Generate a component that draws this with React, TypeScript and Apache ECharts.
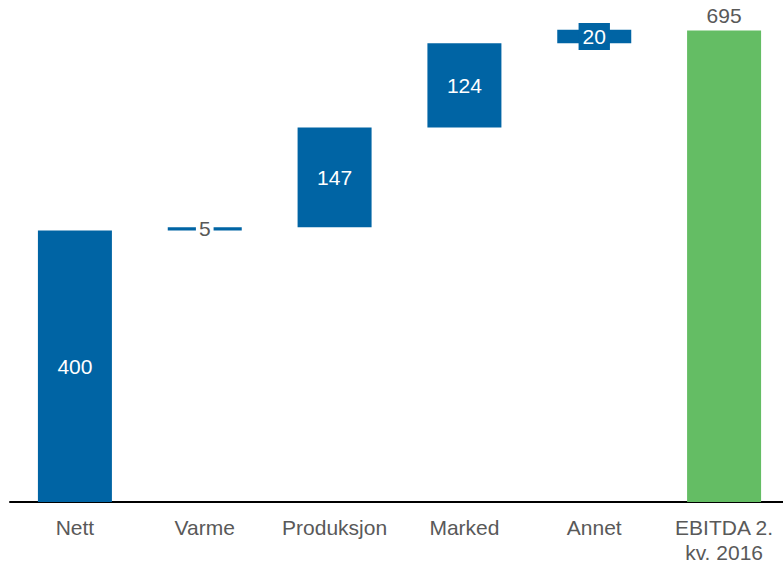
import React, { useEffect, useRef } from "react";
import * as echarts from "echarts";

const categories = ["Nett", "Varme", "Produksjon", "Marked", "Annet", "EBITDA 2.\nkv. 2016"];
const values = [400, 5, 147, 124, 20, 695];
const isTotal = [false, false, false, false, false, true];

const BLUE = "#0064A4";
const GREEN = "#64BD64";
const GRAY = "#595959";
const FONT = "Liberation Sans, Arial, sans-serif";

export default function App() {
  const ref = useRef<HTMLDivElement>(null);
  useEffect(() => {
    if (!ref.current) return;
    const chart = echarts.init(ref.current, null, { renderer: "svg" });
    const bases: number[] = [];
    let run = 0;
    values.forEach((v, i) => {
      if (isTotal[i]) {
        bases.push(0);
      } else {
        bases.push(run);
        run += v;
      }
    });
    const labelFor = (i: number) => {
      const v = values[i];
      if (isTotal[i]) {
        return { show: true, position: "top", distance: 4, color: GRAY, fontSize: 21, fontFamily: FONT };
      }
      if (v < 10) {
        return {
          show: true, position: "inside", color: GRAY, fontSize: 21, fontFamily: FONT,
          backgroundColor: "#ffffff", padding: [0, 3], lineHeight: 22,
        };
      }
      if (v < 40) {
        return {
          show: true, position: "inside", color: "#ffffff", fontSize: 21, fontFamily: FONT,
          backgroundColor: BLUE, padding: [3, 4], lineHeight: 21,
        };
      }
      return { show: true, position: "inside", color: "#ffffff", fontSize: 21, fontFamily: FONT };
    };
    chart.setOption({
      animation: false,
      grid: { left: 10, right: 0, top: 27, bottom: 61, containLabel: false },
      xAxis: {
        type: "category",
        data: categories,
        axisLine: { show: true, lineStyle: { color: "#000000", width: 2 } },
        axisTick: { show: false },
        axisLabel: { color: GRAY, fontSize: 21, fontFamily: FONT, margin: 13, lineHeight: 25, interval: 0 },
      },
      yAxis: {
        type: "value",
        min: 0,
        max: 700,
        show: false,
        splitLine: { show: false },
      },
      series: [
        {
          type: "bar",
          stack: "w",
          data: bases,
          itemStyle: { color: "transparent" },
          barWidth: 74,
          silent: true,
        },
        {
          type: "bar",
          stack: "w",
          barWidth: 74,
          data: values.map((v, i) => ({
            value: v,
            itemStyle: { color: isTotal[i] ? GREEN : BLUE },
            label: labelFor(i),
          })),
        },
      ],
    });
    return () => chart.dispose();
  }, []);
  return (
    <div style={{ position: "absolute", left: 0, top: 0, width: 783, height: 565, overflow: "hidden" }}>
      <div ref={ref} style={{ width: 789, height: 565 }} />
    </div>
  );
}
